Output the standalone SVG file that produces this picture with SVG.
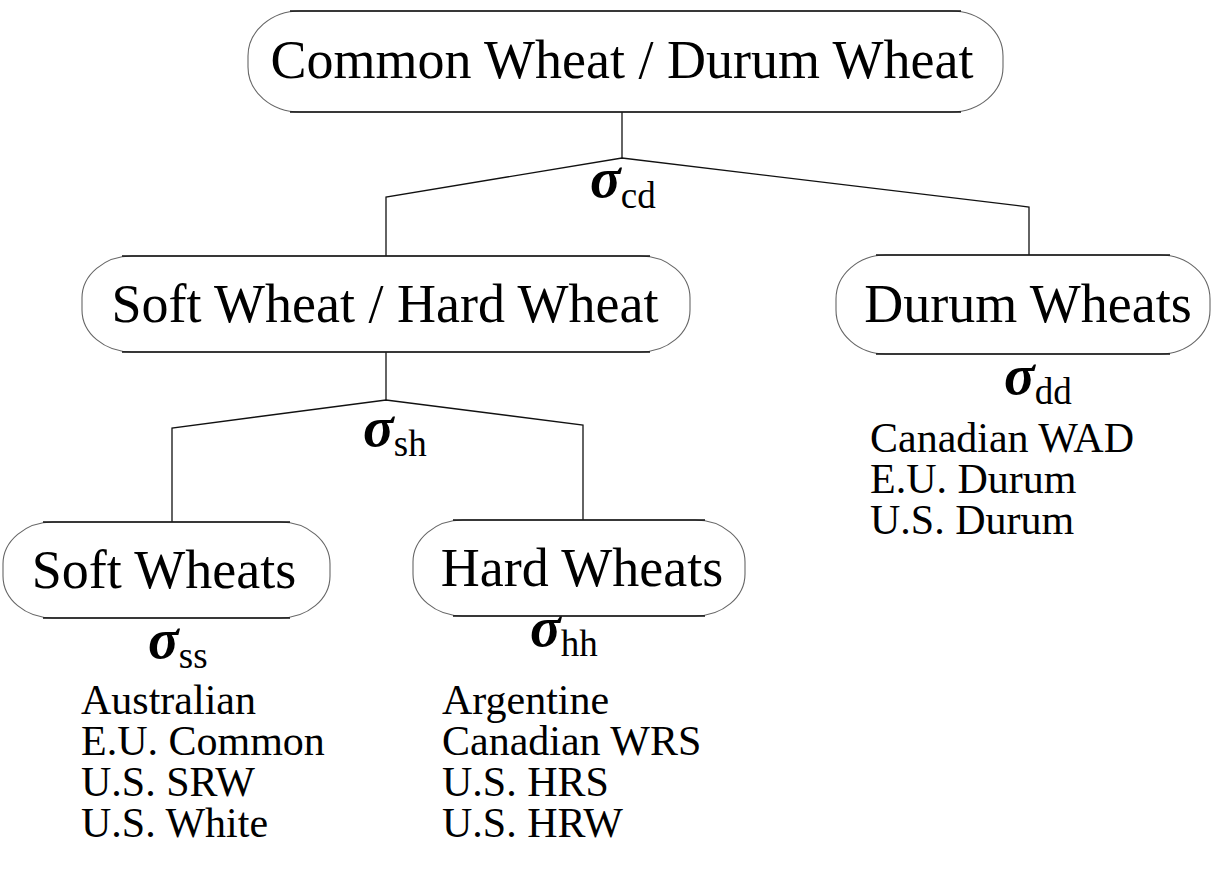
<svg xmlns="http://www.w3.org/2000/svg" width="1213" height="869" viewBox="0 0 1213 869">
<style>
.box{fill:none;stroke:#666;stroke-width:1.1}
.edge{fill:none;stroke:#111;stroke-width:1.5}
.big{font-family:"Liberation Serif","Times New Roman",serif;font-size:54px;fill:#000;text-anchor:middle}
.lst{font-family:"Liberation Serif","Times New Roman",serif;font-size:42px;fill:#000}
.sig{font-family:"Liberation Serif","Times New Roman",serif;font-size:57px;font-weight:bold;font-style:italic;fill:#000}
.sub{font-family:"Liberation Serif","Times New Roman",serif;font-size:37px;font-weight:normal;font-style:normal}
.con{fill:none;stroke:#111;stroke-width:1.3}
</style>
<rect width="1213" height="869" fill="#fff"/>
<g id="connectors">
<polyline class="con" points="622,112 622,158"/>
<polyline class="con" points="386,256 386,197 622,158 1029,207 1029,255"/>
<polyline class="con" points="386,352 386,400"/>
<polyline class="con" points="172,522 172,428 386,400 583,425 583,520"/>
</g>
<g id="n_common">
<rect class="box" x="248" y="11" width="755" height="101" rx="52" ry="45"/>
<path class="edge" d="M290,11 H961 M290,112 H961"/>
<text class="big" x="622" y="78">Common Wheat / Durum Wheat</text>
</g>
<g id="n_softhard">
<rect class="box" x="82" y="256" width="608" height="96" rx="50" ry="42"/>
<path class="edge" d="M122,256 H650 M122,352 H650"/>
<text class="big" x="385" y="322">Soft Wheat / Hard Wheat</text>
<text class="sig" x="363" y="446">σ<tspan class="sub" dy="10">sh</tspan></text>
</g>
<g id="n_durum">
<rect class="box" x="836" y="255" width="374" height="99" rx="50" ry="44"/>
<path class="edge" d="M876,255 H1170 M876,354 H1170"/>
<text class="big" x="1028" y="322">Durum Wheats</text>
<text class="sig" x="1004" y="394">σ<tspan class="sub" dy="10">dd</tspan></text>
<text class="lst" x="870" y="452">Canadian WAD</text>
<text class="lst" x="870" y="493">E.U. Durum</text>
<text class="lst" x="870" y="534">U.S. Durum</text>
</g>
<g id="n_soft">
<rect class="box" x="3" y="522" width="327" height="96" rx="50" ry="42"/>
<path class="edge" d="M43,522 H290 M43,618 H290"/>
<text class="big" x="164" y="588">Soft Wheats</text>
<text class="sig" x="148" y="658">σ<tspan class="sub" dy="10">ss</tspan></text>
<text class="lst" x="81" y="714">Australian</text>
<text class="lst" x="81" y="755">E.U. Common</text>
<text class="lst" x="81" y="796">U.S. SRW</text>
<text class="lst" x="81" y="837">U.S. White</text>
</g>
<g id="n_hard">
<rect class="box" x="413" y="520" width="332" height="96" rx="50" ry="42"/>
<path class="edge" d="M453,520 H705 M453,616 H705"/>
<text class="big" x="582" y="586">Hard Wheats</text>
<text class="sig" x="530" y="646">σ<tspan class="sub" dy="10">hh</tspan></text>
<text class="lst" x="442" y="714">Argentine</text>
<text class="lst" x="442" y="755">Canadian WRS</text>
<text class="lst" x="442" y="796">U.S. HRS</text>
<text class="lst" x="442" y="837">U.S. HRW</text>
</g>
<g id="n_cd">
<text class="sig" x="590" y="197">σ<tspan class="sub" dy="11">cd</tspan></text>
</g>
</svg>
